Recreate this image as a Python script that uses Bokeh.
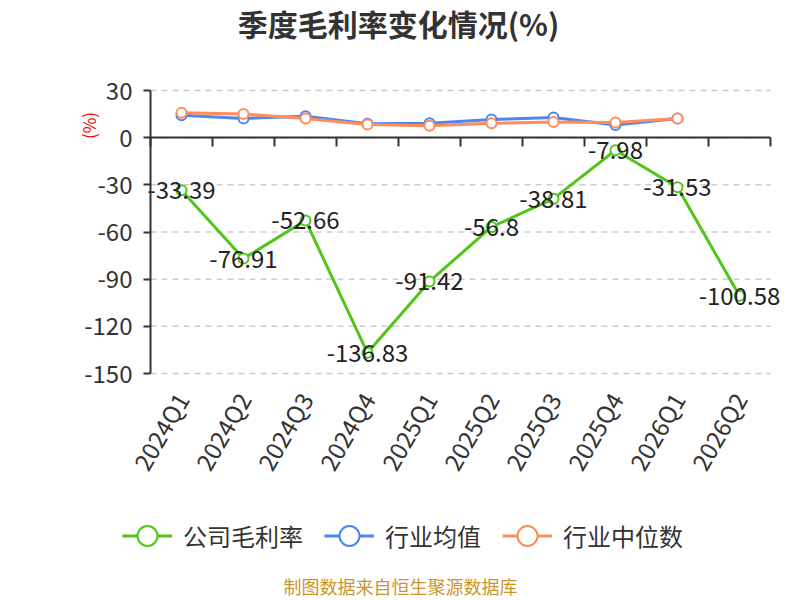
from bokeh.plotting import figure
from bokeh.models import (Range1d, LinearAxis, FixedTicker, Label,
                          Legend, LegendItem, ColumnDataSource)
from bokeh.core.properties import value
from bokeh.embed import file_html
from bokeh.resources import INLINE

quarters = ["2024Q1", "2024Q2", "2024Q3", "2024Q4", "2025Q1", "2025Q2",
            "2025Q3", "2025Q4", "2026Q1", "2026Q2"]
company_margin = [-33.39, -76.91, -52.66, -136.83, -91.42, -56.8, -38.81, -7.98, -31.53, -100.58]
industry_avg = [14.3, 12.2, 13.7, 8.9, 9.1, 11.5, 12.8, 8.1, 12.2]
industry_median = [15.9, 15.0, 12.2, 8.3, 7.6, 9.1, 10.0, 9.6, 12.2]
y_ticks = [-150, -120, -90, -60, -30, 0, 30]

series_names = ["公司毛利率", "行业均值", "行业中位数"]
title_text = "季度毛利率变化情况(%)"
footer_text = "制图数据来自恒生聚源数据库"

GREEN = "#52c41a"
BLUE = "#4f86ee"
ORANGE = "#ff8c5a"
FONT = "Noto Sans CJK SC"

W, H = 800, 600
n = len(quarters)
centers = [i + 0.5 for i in range(n)]
y_min, y_max = min(y_ticks), max(y_ticks)

# layout in pixels: plotting area
LEFT_PX, CAT_PX, TOP_PX, BOT_PX = 150.0, 62.0, 90.0, 373.0
UNIT_PX = (BOT_PX - TOP_PX) / (y_max - y_min)
x_start = -LEFT_PX / CAT_PX
x_end = x_start + W / CAT_PX
y_top = y_max + TOP_PX / UNIT_PX
y_bot = y_top - H / UNIT_PX


def px_x(px):
    return x_start + px / CAT_PX


def px_y(py):
    return y_top - py / UNIT_PX


p = figure(width=W, height=H, x_range=Range1d(x_start, x_end),
           y_range=Range1d(y_bot, y_top), output_backend="svg", toolbar_location=None,
           x_axis_location=None, y_axis_location=None, min_border=0,
           outline_line_color=None)
p.grid.visible = False

# dashed horizontal grid over the plotting area
p.segment(x0=[0] * len(y_ticks), x1=[n] * len(y_ticks), y0=y_ticks, y1=y_ticks,
          line_color="#cccccc", line_dash="6 5", line_width=1.5, level="underlay")

# y axis
yaxis = LinearAxis(fixed_location=0, bounds=(y_min, y_max),
                   ticker=FixedTicker(ticks=y_ticks),
                   major_label_overrides={t: str(t) for t in y_ticks},
                   axis_line_color="#333333", axis_line_width=2,
                   major_tick_line_color="#333333", major_tick_line_width=2,
                   major_tick_out=7, major_tick_in=0, minor_tick_line_color=None,
                   major_label_text_font=FONT, major_label_text_font_size="24px",
                   major_label_text_color="#333333", major_label_standoff=11)
p.add_layout(yaxis, "left")

# zero line axis with boundary ticks
zero_axis = LinearAxis(fixed_location=0, bounds=(0, n),
                       ticker=FixedTicker(ticks=list(range(n + 1))),
                       axis_line_color="#333333", axis_line_width=2,
                       major_tick_line_color="#333333", major_tick_line_width=2,
                       major_tick_out=9, major_tick_in=0,
                       minor_tick_line_color=None,
                       major_label_text_font_size="0px", major_label_text_alpha=0)
p.add_layout(zero_axis, "below")

# category labels at the bottom
cat_axis = LinearAxis(fixed_location=y_min, bounds=(0, n),
                      ticker=FixedTicker(ticks=centers),
                      major_label_overrides={c: q for c, q in zip(centers, quarters)},
                      axis_line_color=None, major_tick_line_color=None,
                      minor_tick_line_color=None, major_tick_out=0, major_tick_in=0,
                      major_label_orientation=1.0472,
                      major_label_text_font=FONT, major_label_text_font_size="24px",
                      major_label_text_color="#333333", major_label_standoff=21)
p.add_layout(cat_axis, "below")

src_c = ColumnDataSource(dict(x=centers, y=company_margin,
                              t=[str(v) for v in company_margin]))
src_i = ColumnDataSource(dict(x=centers[:len(industry_avg)], avg=industry_avg,
                              med=industry_median))

la = p.line("x", "avg", source=src_i, line_color=BLUE, line_width=3)
ca = p.scatter("x", "avg", source=src_i, size=10, line_color=BLUE, fill_color="white", line_width=2)
lm = p.line("x", "med", source=src_i, line_color=ORANGE, line_width=3)
cm = p.scatter("x", "med", source=src_i, size=10, line_color=ORANGE, fill_color="white", line_width=2)
lc = p.line("x", "y", source=src_c, line_color=GREEN, line_width=3)
cc = p.scatter("x", "y", source=src_c, size=10, line_color=GREEN, fill_color="white", line_width=2)
p.text("x", "y", text="t", source=src_c, text_align="center", text_baseline="middle",
       text_font=value(FONT), text_font_size="24px", text_color="#222222")

legend = Legend(items=[LegendItem(label=series_names[0], renderers=[lc, cc]),
                       LegendItem(label=series_names[1], renderers=[la, ca]),
                       LegendItem(label=series_names[2], renderers=[lm, cm])],
                orientation="horizontal", location=(122, 37),
                glyph_width=50, glyph_height=55, label_standoff=11, spacing=21,
                padding=0, margin=0, border_line_color=None, background_fill_alpha=0,
                label_text_font=FONT, label_text_font_size="24px",
                label_text_color="#333333")
p.add_layout(legend, "center")

p.add_layout(Label(x=px_x(398), y=px_y(22), text=title_text,
                   text_align="center", text_baseline="middle", text_font=FONT,
                   text_font_size="30px", text_font_style="bold", text_color="#333333"))
p.add_layout(Label(x=px_x(88), y=px_y(125), text="(%)", angle=1.5708,
                   text_align="center", text_baseline="middle", text_font=FONT,
                   text_font_size="17px", text_color="#ff0000"))
p.add_layout(Label(x=px_x(400), y=px_y(585), text=footer_text,
                   text_align="center", text_baseline="middle", text_font=FONT,
                   text_font_size="18px", text_color="#c8962d"))

open("out.html", "w").write(file_html(p, INLINE))
